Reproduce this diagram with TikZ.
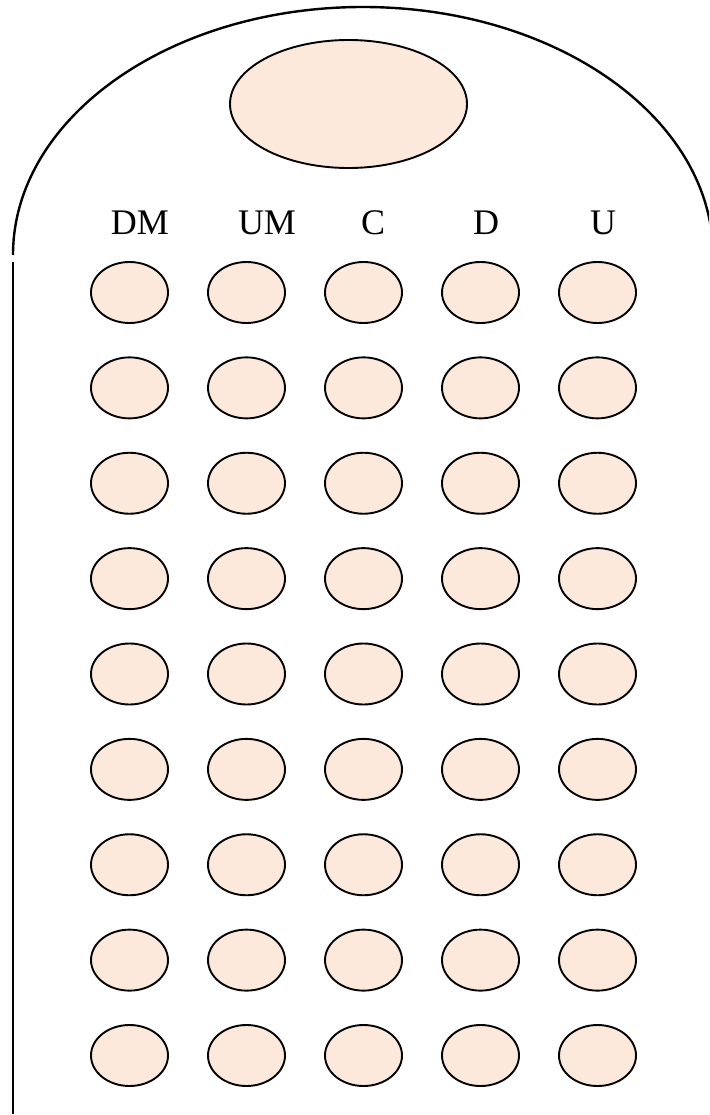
\documentclass[tikz,border=0pt]{standalone}
\usepackage{fontspec}
\setmainfont{Liberation Serif}
\usetikzlibrary{shapes.geometric}
\definecolor{peach}{RGB}{252,233,219}
\begin{document}
\begin{tikzpicture}[x=1pt,y=1pt,
  hole/.style={ellipse, draw, line width=1.9pt, fill=peach, minimum width=77pt, minimum height=61pt, inner sep=0pt},
  outline/.style={line width=2.4pt},
  lab/.style={font=\fontsize{36}{42}\selectfont, anchor=base, inner sep=0pt}]
\useasboundingbox (0,0) rectangle (709,-1115);
\begin{scope}
  \clip (0,0) rectangle (709,-1115);
  \draw[outline] (13,-255) arc[start angle=180, end angle=0, x radius=350, y radius=248];
\end{scope}
\coordinate (ltop) at (13,-262);
\coordinate (lbot) at (13,-1114);
\draw[outline] (ltop) -- (lbot);
\node[hole, minimum width=237pt, minimum height=128pt] (top) at (348.5,-104) {};
\node[lab] (lDM) at (140,-235) {DM};
\node[lab] (lUM) at (267,-235) {UM};
\node[lab] (lC) at (373,-235) {C};
\node[lab] (lD) at (486,-235) {D};
\node[lab] (lU) at (603,-235) {U};
\foreach \r in {0,...,8}{
  \foreach \c in {0,...,4}{
    \node[hole] (h-\r-\c) at ({129.5+117*\c},{-292.5-95.375*\r}) {};
  }
}
\end{tikzpicture}
\end{document}
